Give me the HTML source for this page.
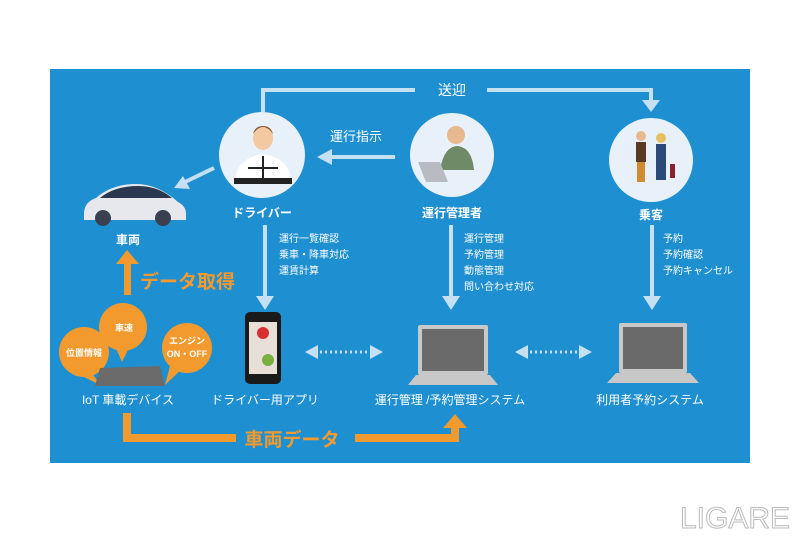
<!DOCTYPE html>
<html><head><meta charset="utf-8"><style>
body{margin:0;width:800px;height:533px;background:#fff;overflow:hidden;font-family:"Liberation Sans","Noto Sans CJK JP",sans-serif}
</style></head><body>
<svg width="800" height="533" viewBox="0 0 800 533" xmlns="http://www.w3.org/2000/svg" font-family="Liberation Sans, Noto Sans CJK JP, sans-serif">
<rect x="50" y="69" width="700" height="394" fill="#1e8fd0"/>
<g stroke="#c4e0f2" stroke-width="4" fill="none">
<polyline points="263,112 263,90 415,90"/>
<polyline points="487,90 651,90 651,102"/>
<line x1="395" y1="157" x2="330" y2="157"/>
<line x1="214" y1="168" x2="185" y2="182"/>
<line x1="265" y1="225" x2="265" y2="298"/>
<line x1="451" y1="225" x2="451" y2="298"/>
<line x1="652" y1="225" x2="652" y2="298"/>
</g>
<g fill="#c4e0f2">
<polygon points="642,100 660,100 651,112"/>
<polygon points="317,157 332,149 332,165"/>
<polygon points="174,188 183,176 190,189"/>
<polygon points="256,296 274,296 265,310"/>
<polygon points="442,296 460,296 451,310"/>
<polygon points="643,296 661,296 652,310"/>
<polygon points="305,352 318,345 318,359"/><polygon points="383,352 370,345 370,359"/>
<polygon points="515,352 528,345 528,359"/><polygon points="592,352 579,345 579,359"/>
</g>
<g stroke="#c4e0f2" stroke-width="3" stroke-dasharray="2,3"><line x1="320" y1="352" x2="368" y2="352"/><line x1="530" y1="352" x2="577" y2="352"/></g>
<text x="452" y="95" fill="#fff" font-size="14" text-anchor="middle">送迎</text>
<text x="356" y="141" fill="#fff" font-size="13" text-anchor="middle">運行指示</text>
<circle cx="262" cy="155" r="43" fill="#e8f1fa"/>
<circle cx="452" cy="155" r="42" fill="#e8f1fa"/>
<circle cx="651" cy="160" r="42" fill="#e8f1fa"/>
<!-- driver -->
<ellipse cx="263" cy="138" rx="10" ry="12" fill="#f2c9a0"/><path d="M253,134 q10,-14 20,0 q-2,-8 -10,-8 q-8,0 -10,8z" fill="#8a5a3a"/>
<path d="M235,180 q2,-22 28,-26 q26,4 28,26z" fill="#fff"/>
<rect x="234" y="178" width="58" height="6" fill="#222"/><line x1="263" y1="156" x2="263" y2="178" stroke="#222" stroke-width="2"/><line x1="248" y1="168" x2="278" y2="168" stroke="#222" stroke-width="2"/>
<!-- manager -->
<circle cx="456" cy="135" r="9" fill="#e8b88e"/><path d="M440,170 q4,-24 18,-24 q14,2 16,24z" fill="#6e8a66"/>
<polygon points="418,162 440,162 448,182 426,182" fill="#b8bcc2"/>
<!-- passengers -->
<rect x="636" y="142" width="10" height="20" fill="#5a3a20"/><rect x="637" y="162" width="8" height="20" fill="#d08a30"/><circle cx="641" cy="136" r="5" fill="#e8b88e"/>
<rect x="656" y="144" width="10" height="36" fill="#2a4a7a"/><circle cx="661" cy="138" r="5" fill="#e6c060"/><rect x="670" y="164" width="5" height="14" fill="#8a2030"/>
<g fill="#fff" font-size="12" font-weight="bold" text-anchor="middle">
<text x="262" y="217">ドライバー</text><text x="452" y="217">運行管理者</text><text x="651" y="219">乗客</text><text x="128" y="244">車両</text>
</g>
<g fill="#fff" font-size="10">
<text x="279" y="242">運行一覧確認</text><text x="279" y="258">乗車・降車対応</text><text x="279" y="274">運賃計算</text>
<text x="464" y="242">運行管理</text><text x="464" y="258">予約管理</text><text x="464" y="274">動態管理</text><text x="464" y="290">問い合わせ対応</text>
<text x="663" y="242">予約</text><text x="663" y="258">予約確認</text><text x="663" y="274">予約キャンセル</text>
</g>
<!-- car -->
<path d="M84,214 q0,-12 12,-16 q16,-14 40,-14 q22,0 42,18 q8,4 8,12 l0,6 l-102,0z" fill="#e6e8ee"/>
<path d="M100,198 q14,-12 38,-12 q20,0 34,12z" fill="#2a3850"/>
<circle cx="103" cy="218" r="8" fill="#3a4050"/><circle cx="163" cy="218" r="8" fill="#3a4050"/>
<!-- orange -->
<g fill="#f29a2e">
<rect x="124" y="262" width="7" height="33"/><polygon points="116,264 139,264 127,250"/>
<circle cx="84" cy="352" r="25"/><circle cx="123" cy="327" r="24"/><circle cx="187" cy="348" r="25"/>
<polygon points="70,370 90,370 100,385"/><polygon points="115,346 130,346 122,362"/><polygon points="170,366 185,366 165,385"/>
<polygon points="123,413 131,413 131,434 236,434 236,442 123,442"/>
<polygon points="355,434 451,434 451,426 459,426 459,442 355,442"/>
<polygon points="443,428 467,428 455,414"/>
</g>
<text x="140" y="288" fill="#f29a2e" font-size="19" font-weight="bold">データ取得</text>
<text x="292" y="446" fill="#f29a2e" font-size="19" font-weight="bold" text-anchor="middle">車両データ</text>
<g fill="#fff" font-size="9" font-weight="bold" text-anchor="middle">
<text x="84" y="356">位置情報</text><text x="124" y="331">車速</text><text x="187" y="344">エンジン</text><text x="187" y="357">ON・OFF</text>
</g>
<polygon points="100,368 160,366 165,386 95,386" fill="#6b6b6b"/>
<!-- phone -->
<rect x="245" y="312" width="36" height="72" rx="5" fill="#1a1a1a"/><rect x="249" y="322" width="28" height="52" fill="#e8e0d8"/>
<circle cx="263" cy="333" r="6" fill="#d83030"/><circle cx="268" cy="360" r="6" fill="#7ab040"/>
<!-- laptops -->
<g fill="#c8c8c8"><rect x="418" y="325" width="70" height="50" rx="2"/><polygon points="408,385 498,385 490,375 416,375"/>
<rect x="619" y="323" width="68" height="50" rx="2"/><polygon points="607,383 699,383 690,373 616,373"/></g>
<rect x="422" y="329" width="62" height="42" fill="#6a6a6a"/><rect x="623" y="327" width="60" height="42" fill="#6a6a6a"/>
<g fill="#fff" font-size="12" text-anchor="middle">
<text x="128" y="404">IoT 車載デバイス</text><text x="265" y="404">ドライバー用アプリ</text><text x="450" y="404">運行管理 /予約管理システム</text><text x="650" y="404">利用者予約システム</text>
</g>
<text x="735" y="528" fill="#fff" stroke="#bbb" stroke-width="1" font-size="30" text-anchor="middle" font-family="Liberation Sans, sans-serif">LIGARE</text>
</svg>
</body></html>
